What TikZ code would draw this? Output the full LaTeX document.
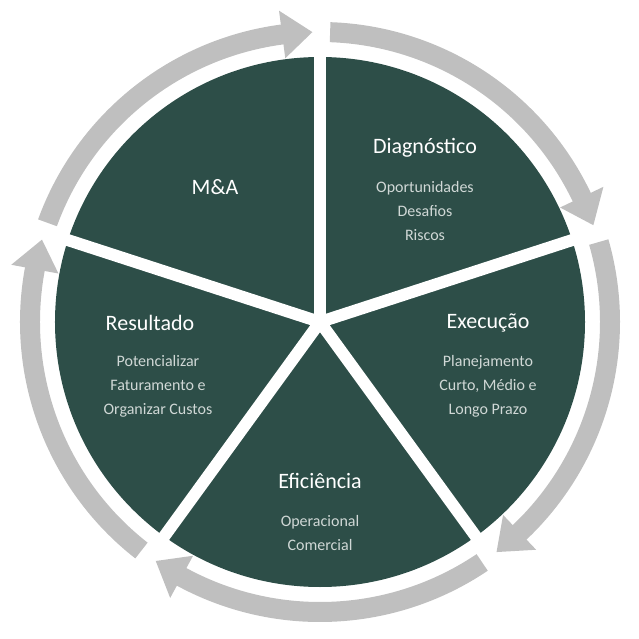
\documentclass[tikz,border=0pt]{standalone}
\usepackage{fontspec}
\setmainfont{Carlito}
\definecolor{dk}{HTML}{2D4E48}
\definecolor{rg}{HTML}{BFBFBF}
\definecolor{st}{HTML}{D0D8D6}
\tikzset{ttl/.style={text=white,font=\fontsize{22}{26}\selectfont},
sub/.style={text=st,font=\fontsize{16}{24}\selectfont,align=center}}
\begin{document}
\begin{tikzpicture}[x=1pt,y=1pt]
\useasboundingbox (-320,-317) rectangle (318,322);
\fill[dk] (0,0) circle (265);
\foreach \g in {90,18,-54,-126,162}{
  \draw[white,line width=12pt] (0,0) -- (\g:330);
  \fill[rg] (\g+70:300) arc[start angle=\g+70,end angle=\g+7,radius=300] -- (\g+7:280) arc[start angle=\g+7,end angle=\g+70,radius=280] -- cycle;
  \fill[rg] (\g+7.5:266) -- (\g+1.5:290) -- (\g+7.5:314) -- cycle;
}
\node[ttl] (d) at (105,174) {Diagnóstico};
\node[sub] (ds) at (105,111) {Oportunidades\\Desafios\\Riscos};
\node[ttl] (m) at (-105,135) {M\&A};
\node[ttl] (e) at (168,-1) {Execução};
\node[sub] (es) at (168,-64) {Planejamento\\Curto, Médio e\\Longo Prazo};
\node[ttl] (f) at (0,-159) {Eficiência};
\node[sub] (fs) at (0,-211) {Operacional\\Comercial};
\node[ttl] (r) at (-170,-1) {Resultado};
\node[sub] (rs) at (-162,-64) {Potencializar\\Faturamento e\\Organizar Custos};
\end{tikzpicture}
\end{document}
